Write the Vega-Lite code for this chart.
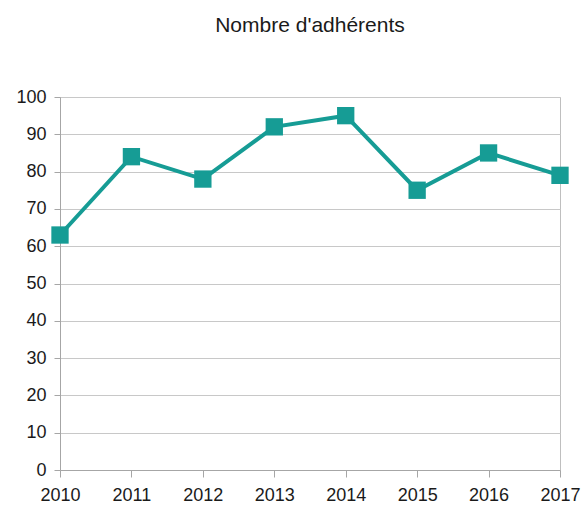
{
  "$schema": "https://vega.github.io/schema/vega-lite/v6.json",
  "autosize": "none",
  "width": 500,
  "height": 373,
  "padding": {"left": 60, "top": 97, "right": 24, "bottom": 38},
  "background": "white",
  "title": {
    "text": "Nombre d'adhérents",
    "font": "Liberation Sans",
    "fontSize": 21,
    "fontWeight": "normal",
    "color": "#1a1a1a",
    "anchor": "middle",
    "offset": 52
  },
  "config": {
    "view": {"stroke": "#bfbfbf", "strokeWidth": 1},
    "axis": {
      "labelFont": "Liberation Sans",
      "labelFontSize": 18,
      "labelColor": "#1a1a1a",
      "domainColor": "#a6a6a6",
      "tickColor": "#a6a6a6",
      "gridColor": "#c8c8c8",
      "title": null
    }
  },
  "data": {
    "values": [
      {"year": "2010", "n": 63},
      {"year": "2011", "n": 84},
      {"year": "2012", "n": 78},
      {"year": "2013", "n": 92},
      {"year": "2014", "n": 95},
      {"year": "2015", "n": 75},
      {"year": "2016", "n": 85},
      {"year": "2017", "n": 79}
    ]
  },
  "encoding": {
    "x": {
      "field": "year",
      "type": "ordinal",
      "scale": {"type": "point", "padding": 0},
      "axis": {"labelAngle": 0, "grid": false, "tickSize": 7, "labelPadding": 9}
    },
    "y": {
      "field": "n",
      "type": "quantitative",
      "scale": {"domain": [0, 100]},
      "axis": {"values": [0,10,20,30,40,50,60,70,80,90,100], "tickSize": 6, "labelPadding": 8, "domain": true}
    }
  },
  "layer": [
    {"mark": {"type": "line", "color": "#169c95", "strokeWidth": 4}},
    {"mark": {"type": "square", "color": "#169c95", "size": 300, "opacity": 1, "filled": true}}
  ]
}
